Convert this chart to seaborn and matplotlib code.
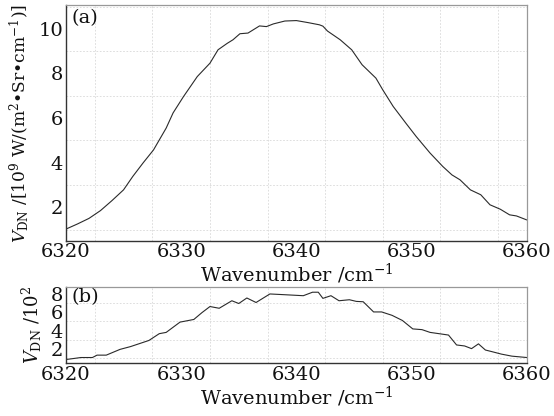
import numpy as np
import pandas as pd
import matplotlib
matplotlib.use("Agg")
import matplotlib.pyplot as plt
from matplotlib.ticker import MultipleLocator, FixedLocator
import seaborn as sns

# ---- data ----
wn_a = [6320, 6321, 6322, 6323, 6324, 6325, 6325.8, 6326.7, 6327.6, 6328.7, 6329.3,
        6330.2, 6331.4, 6332.5, 6333.2, 6334, 6334.5, 6335.1, 6335.8, 6336.8, 6337.4,
        6338, 6339, 6340, 6341, 6342, 6342.3, 6342.7, 6343.8, 6344.8, 6345.7, 6346.9,
        6347.5, 6348.4, 6349.5, 6350.4, 6351.6, 6352.7, 6353.5, 6354.2, 6355.1,
        6356, 6356.8, 6357.7, 6358.5, 6359.1, 6360]
v_a = [1.02, 1.25, 1.50, 1.85, 2.30, 2.78, 3.38, 3.99, 4.57, 5.55, 6.23,
       6.96, 7.86, 8.46, 9.06, 9.35, 9.51, 9.78, 9.81, 10.13, 10.10,
       10.22, 10.35, 10.37, 10.28, 10.18, 10.12, 9.90, 9.51, 9.06, 8.39, 7.79,
       7.26, 6.52, 5.77, 5.17, 4.43, 3.83, 3.45, 3.23, 2.78,
       2.56, 2.11, 1.91, 1.66, 1.61, 1.43]

wn_b = [6320, 6321.3, 6322.3, 6322.7, 6323.5, 6324.7, 6325.6, 6327.2, 6328.1, 6328.7,
        6329.9, 6331.1, 6331.8, 6332.5, 6333.3, 6334.4, 6335.0, 6335.7, 6336.5,
        6337.7, 6338.8, 6340.0, 6340.6, 6341.4, 6341.9, 6342.3, 6343.0, 6343.7,
        6344.6, 6345.2, 6345.8, 6346.7, 6347.4, 6348.3, 6349.2, 6350.1, 6350.9,
        6351.6, 6352.6, 6353.2, 6353.9, 6354.6, 6355.2, 6355.8, 6356.4, 6357.0,
        6357.8, 6358.7, 6360]
v_b = [0.85, 1.07, 1.07, 1.33, 1.33, 1.96, 2.26, 2.93, 3.67, 3.81,
       4.93, 5.22, 5.96, 6.63, 6.44, 7.26, 6.96, 7.56, 7.07,
       8.00, 7.93, 7.85, 7.81, 8.19, 8.19, 7.52, 7.81, 7.26,
       7.37, 7.19, 7.15, 6.04, 6.04, 5.67, 5.11, 4.19, 4.11,
       3.81, 3.63, 3.52, 2.44, 2.33, 2.04, 2.56, 1.89, 1.70,
       1.44, 1.22, 1.07]

x_ticks = [6320, 6330, 6340, 6350, 6360]
ya_ticks = [2, 4, 6, 8, 10]
yb_ticks = [2, 4, 6, 8]

df_a = pd.DataFrame({"wn": wn_a, "v": v_a})
df_b = pd.DataFrame({"wn": wn_b, "v": v_b})

sns.set_theme(style="white")
plt.rcParams["font.family"] = ["DejaVu Serif"]
plt.rcParams["mathtext.fontset"] = "dejavuserif"

fig = plt.figure(figsize=(5.54, 4.16), dpi=100)
fig.patch.set_facecolor("white")
ax1 = fig.add_axes([0.119, 0.4214, 0.832, 0.5656])
ax2 = fig.add_axes([0.119, 0.128, 0.832, 0.183])

line_color = "#2a2a2a"
sns.lineplot(data=df_a, x="wn", y="v", ax=ax1, color=line_color, linewidth=0.8)
sns.lineplot(data=df_b, x="wn", y="v", ax=ax2, color=line_color, linewidth=0.8)

grid_kw = dict(color="#d8d8d8", linestyle=(0, (2, 2)), linewidth=0.6, zorder=0)

for ax, ylim, yt in [(ax1, (0.5, 11.05), ya_ticks), (ax2, (0.5, 8.8), yb_ticks)]:
    ax.set_xlim(6320, 6360)
    ax.set_ylim(*ylim)
    ax.set_facecolor("white")
    ax.xaxis.set_major_locator(FixedLocator(x_ticks))
    ax.yaxis.set_major_locator(FixedLocator(yt))
    ax.yaxis.set_minor_locator(MultipleLocator(1))
    ax.tick_params(axis="both", which="major", direction="in", length=5, width=0.9,
                   labelsize=14, color="#222222", labelcolor="#111111", pad=2)
    ax.tick_params(axis="both", which="minor", direction="in", length=3, width=0.8,
                   color="#222222")
    ax.tick_params(top=False, right=False, which="both")
    ax.grid(which="minor", axis="y", **{k: v for k, v in grid_kw.items() if k != "zorder"})
    ax.set_axisbelow(True)
    for gx in np.arange(6322.5, 6360, 5):
        ax.axvline(gx, **grid_kw)
    for s in ["left", "bottom"]:
        ax.spines[s].set_color("#333333")
        ax.spines[s].set_linewidth(1.0)
    for s in ["top", "right"]:
        ax.spines[s].set_color("#999999")
        ax.spines[s].set_linewidth(0.9)
    for s in ax.spines.values():
        s.set_visible(True)

ax1.xaxis.set_minor_locator(MultipleLocator(5))
ax2.xaxis.set_minor_locator(MultipleLocator(2.5))
ax2.tick_params(axis="x", which="major", length=6)
ax2.tick_params(axis="x", which="minor", length=6)

ax1.set_xlabel("Wavenumber /cm$^{-1}$", fontsize=14, labelpad=0, color="#111111")
ax2.set_xlabel("Wavenumber /cm$^{-1}$", fontsize=14, labelpad=1, color="#111111")
ax1.set_ylabel(r"$V_{\mathrm{DN}}$ /[10$^9$ W/(m$^2$•Sr•cm$^{-1}$)]", fontsize=12.3,
               labelpad=5, color="#111111")
ax2.set_ylabel(r"$V_{\mathrm{DN}}$ /10$^2$", fontsize=13, labelpad=5, color="#111111")

ax1.text(0.012, 0.985, "(a)", transform=ax1.transAxes, fontsize=14, va="top", ha="left",
         color="#111111")
ax2.text(0.012, 0.98, "(b)", transform=ax2.transAxes, fontsize=14, va="top", ha="left",
         color="#111111")

fig.savefig("out.png", dpi=100, facecolor="white")
